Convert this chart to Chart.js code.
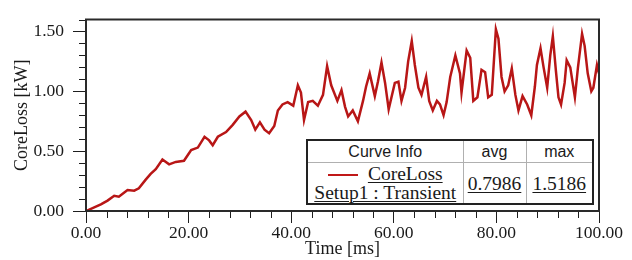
<!DOCTYPE html>
<html>
<head>
<meta charset="utf-8">
<script src="https://cdn.jsdelivr.net/npm/chart.js@4/dist/chart.umd.min.js"></script>
<style>
  html, body { margin: 0; padding: 0; background: #ffffff; }
  #wrap { position: relative; width: 632px; height: 260px; overflow: hidden; }
  #c { position: absolute; left: 0; top: 0; }
  #info {
    position: absolute; left: 306px; top: 139px;
    border-collapse: collapse; background: #fff;
    border: 2px solid #222; table-layout: fixed;
  }
  #info td { border: 1px solid #b0b0b0; padding: 0; text-align: center; color: #1a1a1a; white-space: nowrap; }
  #info tr.h td { font-family: "Liberation Sans", Arial, sans-serif; font-size: 16px; height: 21px; }
  #info tr.d td { font-family: "Liberation Serif", "Times New Roman", serif; font-size: 19.5px; height: 40px; line-height: 19px; }
  #info u { text-decoration: underline; text-decoration-thickness: 1px; text-underline-offset: 2px; }
  .swatch { display: inline-block; width: 30px; height: 0; border-top: 2px solid #c01818; vertical-align: middle; margin-right: 10px; position: relative; top: -1px; }
</style>
</head>
<body>
<div id="wrap">
  <canvas id="c" width="632" height="260"></canvas>
  <table id="info">
    <colgroup><col style="width:156px"><col style="width:63px"><col style="width:67px"></colgroup>
    <tr class="h"><td>Curve Info</td><td>avg</td><td>max</td></tr>
    <tr class="d"><td><span class="swatch"></span><u>CoreLoss</u><br><u>Setup1 : Transient</u></td><td><u>0.7986</u></td><td><u>1.5186</u></td></tr>
  </table>
</div>
<script>
// ---- data ----
const timeMs = [0, 1.6, 2.9, 4.2, 5.5, 6.4, 7.4, 8.1, 9.4, 10.3, 11.6, 12.6, 13.6, 14.9, 16.2, 17.5, 19.1,
  20.5, 21.8, 23.1, 24.0, 24.7, 25.7, 27.3, 28.6, 29.9, 31.1, 32.2, 33.0, 33.9, 34.8, 35.7, 36.7, 37.4, 38.3, 39.3,
  40.4, 41.3, 41.9, 42.5, 43.3, 44.2, 45.2, 46.2, 47.0, 47.8, 49.0, 49.8, 50.5, 51.1, 52.0, 53.0, 54.0, 54.6, 55.3,
  56.3, 56.9, 57.6, 58.3, 59.0, 60.2, 60.9, 61.5, 62.2, 62.8, 63.5, 64.1, 64.8, 65.4, 66.3, 66.9, 67.6, 68.4, 69.0,
  69.7, 70.3, 71.0, 72.0, 72.9, 73.2, 74.2, 74.9, 75.5, 76.3, 77.1, 77.8, 78.4, 79.1, 79.9, 80.4, 81.0, 81.6, 82.3,
  83.0, 83.7, 84.3, 85.1, 86.0, 86.8, 87.5, 87.9, 88.6, 89.2, 89.9, 90.5, 91.0, 91.6, 92.1, 92.6, 93.3, 93.7, 94.4,
  95.3, 95.9, 96.7, 97.2, 97.8, 98.5, 98.9, 99.6, 100];
const coreLossKW = [0.00, 0.03, 0.055, 0.087, 0.127, 0.12, 0.153, 0.175, 0.17, 0.19, 0.26, 0.31, 0.35, 0.43, 0.39, 0.41, 0.42,
  0.51, 0.53, 0.62, 0.59, 0.55, 0.62, 0.66, 0.72, 0.79, 0.83, 0.76, 0.68, 0.74, 0.68, 0.65, 0.71, 0.84, 0.89, 0.91,
  0.88, 1.05, 0.99, 0.76, 0.91, 0.92, 0.88, 0.97, 1.21, 1.05, 0.92, 1.01, 0.87, 0.79, 0.84, 0.75, 0.92, 1.04, 1.15,
  0.96, 1.08, 1.24, 1.07, 0.85, 1.07, 1.08, 0.92, 1.03, 1.25, 1.42, 1.22, 1.03, 0.97, 1.12, 0.92, 0.84, 0.92, 0.89,
  0.80, 0.91, 1.12, 1.30, 1.15, 0.99, 1.34, 1.28, 0.92, 0.95, 1.18, 1.16, 0.95, 0.97, 1.5186, 1.44, 1.12, 1.00, 1.05,
  1.19, 0.97, 0.84, 0.96, 0.89, 0.80, 1.04, 1.22, 1.36, 1.20, 1.03, 1.30, 1.46, 1.17, 0.95, 0.89, 1.07, 1.26, 1.20,
  0.95, 1.20, 1.48, 1.38, 1.15, 1.00, 1.03, 1.22, 1.15];
const xTickValues = [0, 20, 40, 60, 80, 100];
const yTickValues = [0, 0.5, 1.0, 1.5];
const xAxisTitle = "Time [ms]";
const yAxisTitle = "CoreLoss [kW]";
const seriesName = "CoreLoss";

// ---- styling ----
const AXIS = '#1e1e1e';
const serif = '"Liberation Serif", "Times New Roman", serif';

const frameAndMinorTicks = {
  id: 'frameAndMinorTicks',
  afterDraw(chart) {
    const { ctx, chartArea: a } = chart;
    const xs = chart.scales.x, ys = chart.scales.y;
    ctx.save();
    ctx.strokeStyle = AXIS;
    ctx.lineWidth = 1;
    ctx.beginPath();
    for (let v = 0; v <= 100.001; v += 4) {
      if (Math.abs(v % 20) < 1e-6) continue;
      const px = Math.round(xs.getPixelForValue(v)) + 0.5;
      ctx.moveTo(px, a.bottom); ctx.lineTo(px, a.bottom + 7);
    }
    for (let i = 0; i <= 16; i++) {
      const v = i / 10;
      if (i % 5 === 0) continue;
      const py = Math.round(ys.getPixelForValue(v)) + 0.5;
      ctx.moveTo(a.left - 7, py); ctx.lineTo(a.left, py);
    }
    ctx.stroke();
    ctx.lineWidth = 2;
    ctx.strokeStyle = '#2a2a2a';
    ctx.strokeRect(a.left, a.top, a.right - a.left, a.bottom - a.top);
    ctx.restore();
  }
};

new Chart(document.getElementById('c'), {
  type: 'line',
  data: {
    datasets: [{
      label: seriesName,
      data: timeMs.map((t, i) => ({ x: t, y: coreLossKW[i] })),
      borderColor: '#b81616',
      borderWidth: 2.5,
      pointRadius: 0,
      tension: 0,
      fill: false
    }]
  },
  options: {
    responsive: false,
    animation: false,
    devicePixelRatio: 1,
    layout: { padding: { top: 10, right: 33, left: 0, bottom: 0 } },
    plugins: { legend: { display: false }, tooltip: { enabled: false } },
    scales: {
      x: {
        type: 'linear', min: 0, max: 100,
        afterBuildTicks: s => { s.ticks = xTickValues.map(v => ({ value: v })); },
        afterFit: s => { s.height = 49; },
        ticks: { callback: v => Number(v).toFixed(2), font: { family: serif, size: 17.5 }, color: '#1a1a1a', padding: 0, maxRotation: 0, autoSkip: false },
        grid: { drawOnChartArea: false, drawTicks: true, tickLength: 12, tickColor: AXIS, tickWidth: 1 },
        border: { display: true, color: AXIS, width: 2 },
        title: { display: true, text: xAxisTitle, font: { family: serif, size: 18 }, color: '#1a1a1a', padding: { top: 0, bottom: 0 } }
      },
      y: {
        type: 'linear', min: 0, max: 1.6,
        afterBuildTicks: s => { s.ticks = yTickValues.map(v => ({ value: v })); },
        afterFit: s => { s.width = 86; },
        ticks: { callback: v => Number(v).toFixed(2), font: { family: serif, size: 17.5 }, color: '#1a1a1a', padding: 9, autoSkip: false },
        grid: { drawOnChartArea: false, drawTicks: true, tickLength: 13, tickColor: AXIS, tickWidth: 1 },
        border: { display: true, color: AXIS, width: 2 },
        title: { display: true, text: yAxisTitle, font: { family: serif, size: 18 }, color: '#1a1a1a', padding: { top: 11, bottom: 0 } }
      }
    }
  },
  plugins: [frameAndMinorTicks]
});
</script>
</body>
</html>
